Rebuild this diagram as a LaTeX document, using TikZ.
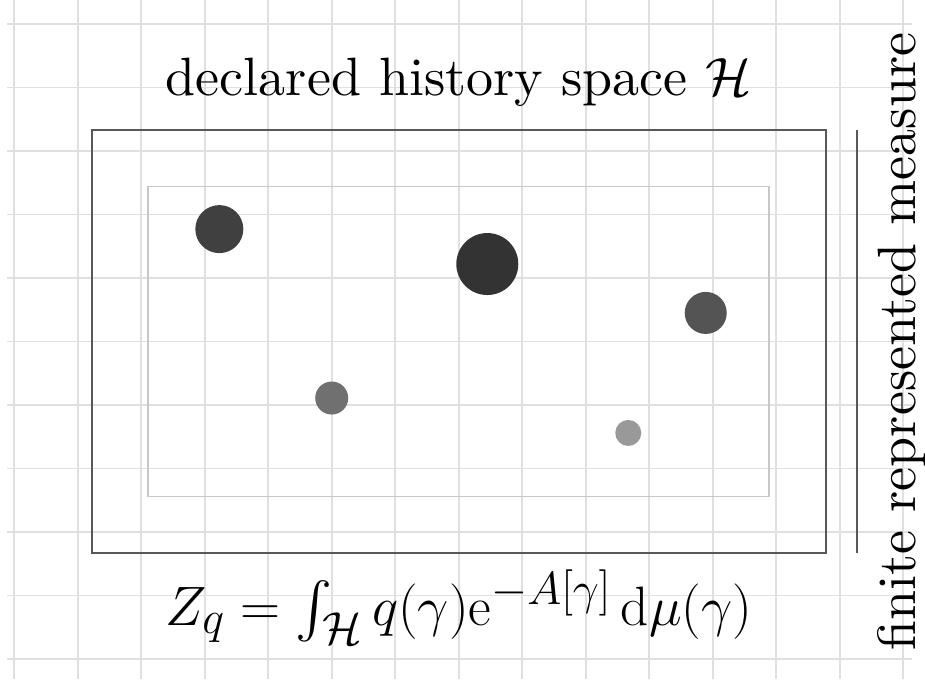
\documentclass[tikz,border=0pt]{standalone}
\usepackage{amsmath}
\usepackage{amssymb}
\usepackage{xcolor}
\usepackage{tikz}
\usetikzlibrary{
	arrows.meta,
	calc,
	positioning
}
\definecolor{FrameGray}{RGB}{88,88,88}
\definecolor{InnerGray}{RGB}{200,200,200}
\definecolor{GridGray}{RGB}{224,224,224}

\begin{document}
\begin{tikzpicture}[
	gridline/.style={GridGray, line width=0.8pt},
	frame/.style={FrameGray, line width=0.8pt},
	inner/.style={InnerGray, line width=0.7pt},
	history/.style={fill=black!#1},
	bigtext/.style={scale=2.42}
]
			\useasboundingbox (-7.224,-5.315) rectangle (7.343,5.378);
			\draw[gridline, step=1] (-7.11,-5.315) grid (7.14,5.378);
			\coordinate (SW) at (-5.78,-3.33);
			\coordinate (NE) at (5.78,3.33);
			\draw[frame] (SW) rectangle (NE);
			\draw[inner] (-4.89,-2.44) rectangle (4.89,2.44);
			% sampled histories
			\fill[history=75] (-3.77,1.77) circle (0.378);
			\fill[history=80] (0.45,1.22) circle (0.488);
			\fill[history=67] (3.89,0.45) circle (0.331);
			\fill[history=56] (-2.0,-0.89) circle (0.26);
			\fill[history=40] (2.67,-1.44) circle (0.205);
			\coordinate (MT) at (6.27,3.33);
			\coordinate (MB) at (6.27,-3.33);
			\draw[frame] (MT) -- (MB);
			\node[bigtext, anchor=base] (title) at (0,3.88) {declared history space $\mathcal{H}$};
			\node[anchor=base] (partition) at (0,-4.465) {\Huge $Z_q = \int_{\mathcal{H}} q(\gamma)\mathrm{e}^{-A[\gamma]}\,\mathrm{d}\mu(\gamma)$};
			\node[bigtext, rotate=90, anchor=base] (measure) at (7.20,0) {finite represented measure};
		\end{tikzpicture}
\end{document}
